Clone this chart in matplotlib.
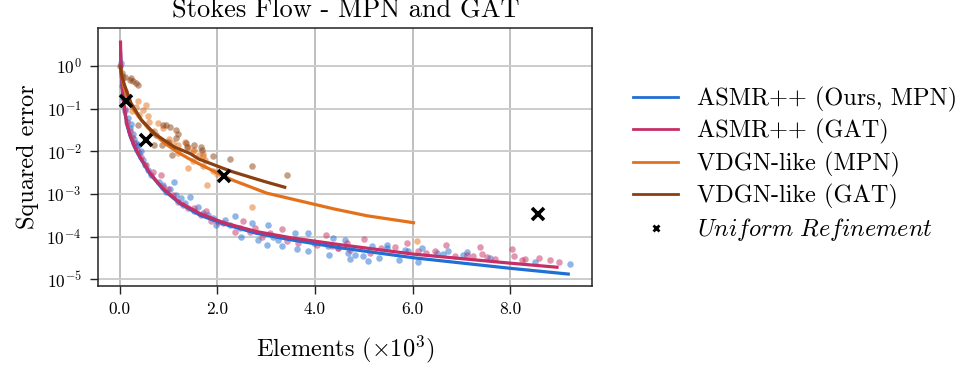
import matplotlib
matplotlib.use("Agg")
import matplotlib.pyplot as plt
from matplotlib.lines import Line2D
from matplotlib.ticker import FormatStrFormatter, LogLocator, NullLocator

plt.rcParams['font.family'] = ['cmr10', 'DejaVu Serif']
plt.rcParams['mathtext.fontset'] = 'cm'
plt.rcParams['axes.formatter.use_mathtext'] = True
plt.rcParams['axes.unicode_minus'] = True

# ---------------- data (x in thousands of elements) ----------------
title = "Stokes Flow - MPN and GAT"
xlabel = r"Elements ($\times10^3$)"
ylabel = "Squared error"
labels = ["ASMR++ (Ours, MPN)", "ASMR++ (GAT)", "VDGN-like (MPN)", "VDGN-like (GAT)",
          r"$\mathit{Uniform\ Refinement}$"]
colors = ["#1f6fd4", "#c62f66", "#e3711b", "#8a4010"]
xticks = [0.0, 2.0, 4.0, 6.0, 8.0]

# fitted curves
asmr_mpn_fit_x = [0.015, 0.02, 0.03, 0.045, 0.068, 0.10, 0.15, 0.21, 0.30, 0.41, 0.615, 0.89,
                  1.23, 1.64, 2.12, 2.80, 3.49, 4.51, 6.02, 7.99, 9.22]
asmr_mpn_fit_y = [2.2, 1.5, 0.76, 0.37, 0.174, 0.085, 0.040, 0.023, 0.0126, 0.0072, 0.0030,
                  0.00126, 6.0e-4, 3.2e-4, 2.0e-4, 1.2e-4, 8.5e-5, 5.5e-5, 3.2e-5, 1.82e-5, 1.32e-5]

asmr_gat_fit_x = [0.0135, 0.02, 0.03, 0.045, 0.068, 0.10, 0.15, 0.21, 0.30, 0.41, 0.615, 0.89,
                  1.23, 1.64, 2.12, 2.80, 3.49, 4.51, 6.02, 7.99, 8.99]
asmr_gat_fit_y = [3.98, 1.78, 0.83, 0.40, 0.18, 0.089, 0.042, 0.024, 0.0132, 0.0076, 0.0031,
                  0.00132, 6.3e-4, 3.5e-4, 2.14e-4, 1.32e-4, 9.5e-5, 6.5e-5, 3.9e-5, 2.4e-5, 1.91e-5]

vdgn_mpn_fit_x = [0.02, 0.06, 0.10, 0.20, 0.30, 0.41, 0.57, 0.75, 0.92, 1.16, 1.40, 1.64,
                  2.14, 2.32, 3.01, 3.69, 4.38, 5.06, 6.05]
vdgn_mpn_fit_y = [0.89, 0.45, 0.28, 0.141, 0.089, 0.060, 0.036, 0.023, 0.0155, 0.0100, 0.0069,
                  0.0050, 0.0026, 0.0021, 0.00105, 6.9e-4, 4.5e-4, 3.1e-4, 2.1e-4]

vdgn_gat_fit_x = [0.005, 0.04, 0.096, 0.23, 0.44, 0.71, 1.12, 1.44, 1.62, 2.12, 2.32, 2.80, 3.01, 3.41]
vdgn_gat_fit_y = [1.05, 0.60, 0.36, 0.135, 0.055, 0.026, 0.0126, 0.0089, 0.0066, 0.0040,
                  0.0033, 0.00224, 0.0019, 0.00141]

uniform_x = [0.117, 0.54, 2.13, 8.56]
uniform_y = [0.148, 0.0187, 0.0026, 3.4e-4]

# individual evaluation points
asmr_mpn_pts_x = [0.02, 0.04, 0.06, 0.10, 0.16, 0.20, 0.23, 0.26, 0.30, 0.33, 0.37, 0.44,
                  0.37, 0.40, 0.47, 0.51, 0.57, 0.64, 0.81, 0.88, 0.95, 1.02, 1.11, 1.15, 1.25,
                  1.33, 1.43, 1.53, 1.60, 1.70, 1.81, 1.91, 1.98, 2.15,
                  2.36, 2.46, 2.48, 2.26, 2.70, 2.84, 3.01, 3.04, 3.14, 3.25, 3.32, 3.59, 3.62,
                  3.86, 3.86, 3.97, 4.27, 4.29, 4.36,
                  4.62, 4.68, 4.72, 4.82, 4.98, 5.08, 5.16, 5.30, 5.47, 5.48, 5.73, 5.85, 5.91,
                  6.10, 6.20, 6.50, 6.63, 6.72, 7.04, 7.12, 7.59, 8.51, 9.22]
asmr_mpn_pts_y = [1.2, 0.6, 0.18, 0.09, 0.06, 0.035, 0.043, 0.025, 0.020, 0.016, 0.014, 0.010,
                  0.014, 0.0091, 0.0063, 0.0048, 0.0037, 0.0028, 0.0019, 0.0016, 0.0011, 0.0013,
                  0.0019, 9.5e-4, 8.0e-4, 6.1e-4, 8.7e-4, 3.9e-4, 5.0e-4, 3.5e-4, 3.2e-4, 2.7e-4,
                  1.9e-4, 2.4e-4,
                  3.1e-4, 1.6e-4, 1.0e-4, 1.9e-4, 2.1e-4, 8.5e-5, 6.4e-5, 1.9e-4, 1.0e-4, 8.5e-5,
                  6.1e-5, 1.2e-4, 5.1e-5, 1.2e-4, 4.5e-5, 7.3e-5, 5.9e-5, 3.7e-5, 9.2e-5,
                  8.5e-5, 4.2e-5, 3.0e-5, 3.7e-5, 3.6e-5, 2.7e-5, 5.9e-5, 3.1e-5, 6.4e-5, 5.5e-5,
                  2.9e-5, 4.9e-5, 4.7e-5, 2.6e-5, 5.3e-5, 4.2e-5, 4.0e-5, 4.7e-5, 3.7e-5, 4.3e-5,
                  3.1e-5, 2.6e-5, 2.3e-5]

asmr_gat_pts_x = [0.05, 0.10, 0.15, 0.20, 0.25, 0.30, 0.35,
                  0.44, 0.54, 0.68, 0.85, 0.88, 0.98, 1.09, 1.19, 1.29, 1.39, 1.53, 1.67, 1.77,
                  1.87, 2.01, 2.11,
                  2.36, 2.53, 2.67, 2.77, 2.91, 3.08, 3.32, 3.42, 3.66, 4.03, 4.23, 4.34, 4.48,
                  4.46, 4.65, 4.72, 5.01, 5.13, 5.35, 5.63, 5.89, 6.10, 6.27, 6.46, 6.69, 6.87,
                  7.11, 7.24, 7.38, 7.42, 7.52, 7.69, 8.03, 8.07, 8.23, 8.31, 8.59, 8.82, 8.99]
asmr_gat_pts_y = [0.35, 0.10, 0.05, 0.03, 0.022, 0.016, 0.011,
                  0.0075, 0.0048, 0.0033, 0.0028, 0.0015, 0.0013, 9.5e-4, 6.6e-4, 5.5e-4, 4.7e-4,
                  4.7e-4, 3.2e-4, 3.9e-4, 2.3e-4, 2.2e-4, 2.1e-4,
                  1.3e-4, 2.3e-4, 1.3e-4, 1.6e-4, 1.0e-4, 1.2e-4, 1.5e-4, 8.0e-5, 7.3e-5, 6.4e-5,
                  1.1e-4, 6.1e-5, 5.4e-5,
                  5.4e-5, 7.0e-5, 4.9e-5, 8.9e-5, 4.2e-5, 5.4e-5, 5.7e-5, 7.3e-5, 4.5e-5, 4.1e-5,
                  4.6e-5, 6.3e-5, 3.6e-5, 3.7e-5, 3.5e-5, 5.7e-5, 4.0e-5, 3.3e-5, 3.0e-5, 5.1e-5,
                  3.5e-5, 2.8e-5, 3.0e-5, 3.2e-5, 2.8e-5, 2.6e-5]

vdgn_mpn_pts_x = [0.06, 0.10, 0.15, 0.25, 0.33, 0.37, 0.40, 0.47, 0.54, 0.57, 0.60, 0.70,
                  0.78, 0.88, 1.00, 1.09, 1.19, 1.19, 1.33, 1.39, 1.39, 1.50, 1.50, 1.53, 1.63,
                  1.70, 1.70, 1.71, 1.74, 1.79, 1.90, 2.00, 2.70, 6.09]
vdgn_mpn_pts_y = [0.52, 0.26, 0.20, 0.09, 0.11, 0.15, 0.072, 0.095, 0.12, 0.066, 0.05, 0.03,
                  0.047, 0.035, 0.02, 0.016, 0.014, 0.0091, 0.017, 0.013, 0.004, 0.010, 0.006,
                  0.011, 0.0083, 0.0087, 0.0045, 0.0079, 0.0063, 0.0016, 0.0035, 0.003, 5.0e-4,
                  8.1e-5]

vdgn_gat_pts_x = [0.01, 0.05, 0.10, 0.20, 0.23, 0.27, 0.33, 0.37, 0.37, 0.65, 0.75, 0.71,
                  0.86, 0.88, 0.95, 1.02, 1.15, 1.19, 1.15, 0.98, 1.06, 1.36, 1.37, 1.53, 1.67,
                  1.68, 1.91, 2.26, 2.71, 3.42]
vdgn_gat_pts_y = [1.0, 0.7, 0.55, 0.48, 0.52, 0.44, 0.40, 0.36, 0.042, 0.028, 0.024, 0.014,
                  0.014, 0.042, 0.041, 0.037, 0.032, 0.025, 0.021, 0.017, 0.0083, 0.016, 0.013,
                  0.014, 0.013, 0.011, 0.0077, 0.0065, 0.0046, 0.0028]

# ---------------- plot ----------------
fig = plt.figure(figsize=(9.67, 3.71), dpi=100)
ax = fig.add_axes([0.1017, 0.229, 0.5108, 0.696])

pts = [(asmr_mpn_pts_x, asmr_mpn_pts_y), (asmr_gat_pts_x, asmr_gat_pts_y),
       (vdgn_mpn_pts_x, vdgn_mpn_pts_y), (vdgn_gat_pts_x, vdgn_gat_pts_y)]
fits = [(asmr_mpn_fit_x, asmr_mpn_fit_y), (asmr_gat_fit_x, asmr_gat_fit_y),
        (vdgn_mpn_fit_x, vdgn_mpn_fit_y), (vdgn_gat_fit_x, vdgn_gat_fit_y)]

for (px, py), c in zip(pts, colors):
    ax.scatter(px, py, s=22, color=c, alpha=0.5, linewidths=0, zorder=2)
handles = []
for (fx, fy), c, lab in zip(fits, colors, labels[:4]):
    ax.plot(fx, fy, color=c, lw=2.3, zorder=3, solid_capstyle='butt')
    handles.append(Line2D([], [], color=c, lw=2.0))
ax.plot(uniform_x, uniform_y, linestyle='none', marker='x', color='black', ms=8, mew=2.6, zorder=4)
handles.append(Line2D([], [], linestyle='none', marker='x', color='black', ms=5, mew=2.0))

ax.set_yscale('log')
ax.set_xlim(-0.44, 9.68)
ax.set_ylim(10 ** -5.157, 10 ** 0.897)
ax.set_xticks(xticks)
ax.xaxis.set_major_formatter(FormatStrFormatter('%.1f'))
ax.yaxis.set_major_locator(LogLocator(base=10, numticks=20))
ax.yaxis.set_minor_locator(NullLocator())

ax.grid(True, axis='x', color='#b4b4b4', lw=1.2)
ax.grid(True, axis='y', color='#cccccc', lw=1.4)
ax.set_axisbelow(True)
for sp in ax.spines.values():
    sp.set_color('#222222')
    sp.set_linewidth(1.1)
ax.tick_params(axis='both', direction='out', length=6, width=1.0, labelsize=12.5, pad=6,
               color='#222222')
ax.tick_params(axis='x', pad=5)

ax.set_title(title, fontsize=19, pad=7.5)
ax.set_xlabel(xlabel, fontsize=17.5, labelpad=12)
ax.set_ylabel(ylabel, fontsize=17.5, labelpad=5)

fig.legend(handles, labels, loc='center left', bbox_to_anchor=(0.655, 0.555), frameon=False,
           fontsize=17.5, handlelength=1.85, handletextpad=0.75, labelspacing=0.3,
           borderaxespad=0, borderpad=0)

fig.savefig("out.png", dpi=100)
